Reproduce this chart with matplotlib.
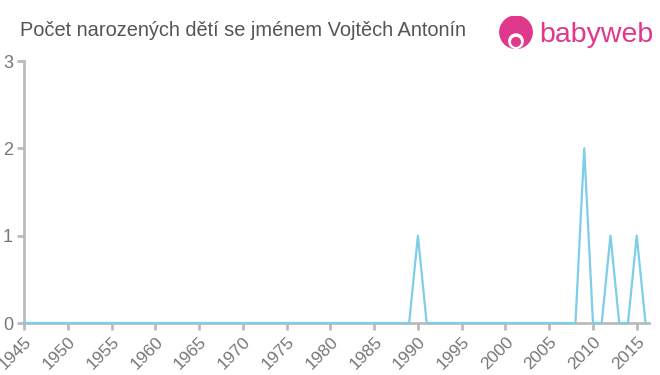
import matplotlib.pyplot as plt
from matplotlib.patches import Circle

plt.rcParams['font.family'] = ['Liberation Sans', 'DejaVu Sans']

title = "Počet narozených dětí se jménem Vojtěch Antonín"
years = list(range(1945, 2017))
counts = [0] * len(years)
peaks = {1990: 1, 2009: 2, 2012: 1, 2015: 1}
for y, v in peaks.items():
    counts[years.index(y)] = v
tick_years = list(range(1945, 2016, 5))
y_ticks = [0, 1, 2, 3]

fig = plt.figure(figsize=(6.6, 3.75), dpi=100)
ax = fig.add_axes([24 / 660, 1 - 323 / 375, (649 - 24) / 660, (323 - 61) / 375])

ax.plot(years, counts, color='#7ecde9', lw=1.6, clip_on=False, zorder=3)

ax.set_xlim(1945, 2016.4)
ax.set_ylim(0, 3)
ax.set_xticks(tick_years)
ax.set_xticklabels([str(t) for t in tick_years], rotation=45, ha='right',
                   rotation_mode='anchor', fontsize=12.5, color='#777777')
ax.set_yticks(y_ticks)
ax.set_yticklabels([str(t) for t in y_ticks], fontsize=13, color='#777777')

for s in ['top', 'right']:
    ax.spines[s].set_visible(False)
for s in ['left', 'bottom']:
    ax.spines[s].set_color('#bbbbbb')
    ax.spines[s].set_linewidth(2)
ax.tick_params(axis='both', color='#bbbbbb', width=2, length=5)
ax.tick_params(axis='x', pad=3)
ax.tick_params(axis='y', pad=3)

fig.text(20 / 660, 1 - 30 / 375, title, fontsize=14.4, color='#555555', va='center', ha='left')

# logo
logo = fig.add_axes([498 / 660, 1 - 52 / 375, 36 / 660, 36 / 375])
logo.set_xlim(0, 1)
logo.set_ylim(0, 1)
logo.set_aspect('equal')
logo.axis('off')
logo.add_patch(Circle((0.5, 0.55), 0.45, color='#e0388b'))
logo.add_patch(Circle((0.5, 0.3), 0.2, color='white'))
logo.add_patch(Circle((0.5, 0.28), 0.12, color='#e0388b'))
fig.text(539 / 660, 1 - 35 / 375, 'babyweb', fontsize=20.5, color='#e0388b', va='center', ha='left')

fig.savefig('out.png', dpi=100)
